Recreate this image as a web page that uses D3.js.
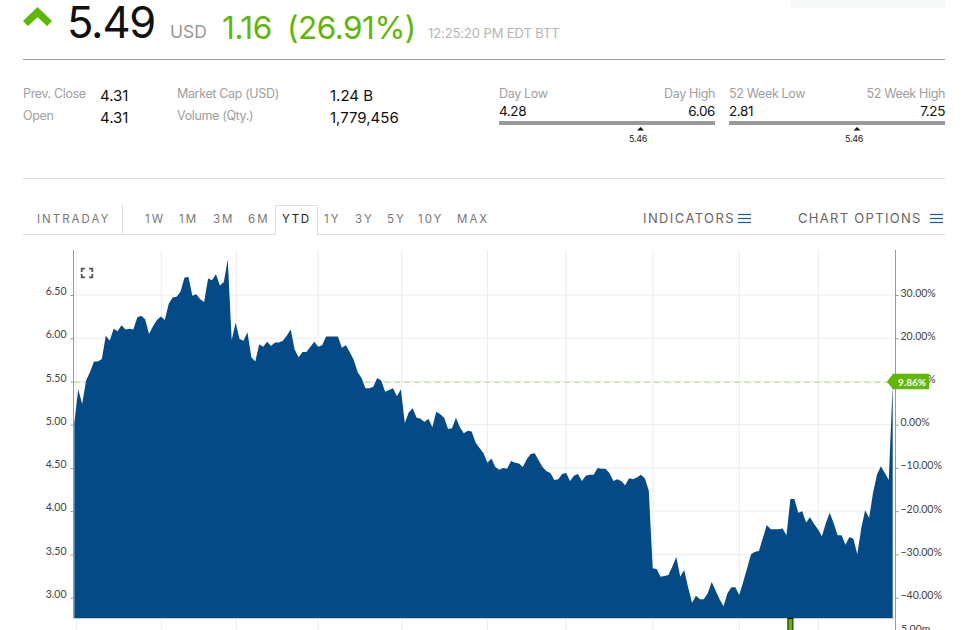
<!DOCTYPE html>
<html><head><meta charset="utf-8">
<script src="https://cdn.jsdelivr.net/npm/d3@7"></script>
<style>
html,body{margin:0;padding:0;background:#fff;overflow:hidden}
svg{display:block}
text{font-family:Inter,"Noto Sans",sans-serif}
.ax text{font-family:Lato,sans-serif;font-size:10.5px;fill:#444}
</style></head><body><div id="c"></div>
<script>
const prices=[5.02,5.41,5.24,5.51,5.61,5.73,5.73,5.76,6.03,5.97,6.11,6.08,6.15,6.10,6.11,6.10,6.24,6.26,6.22,6.05,6.14,6.21,6.25,6.21,6.40,6.47,6.48,6.54,6.70,6.71,6.49,6.51,6.45,6.42,6.69,6.67,6.74,6.61,6.65,6.91,5.98,6.18,5.99,5.97,6.07,
5.78,5.73,5.93,5.90,5.96,5.91,5.95,5.95,5.97,6.03,6.10,5.87,5.78,5.84,5.84,5.90,5.96,5.90,5.92,6.02,6.02,6.02,6.02,5.89,5.92,5.84,5.75,5.61,5.54,5.42,5.42,5.44,5.54,5.51,5.38,5.40,5.42,5.33,5.41,5.02,5.14,5.19,5.08,5.07,5.03,5.07,4.97,5.15,5.12,5.08,4.95,4.96,5.08,
4.97,4.90,4.93,4.92,4.79,4.73,4.67,4.56,4.61,4.51,4.48,4.50,4.49,4.58,4.56,4.55,4.51,4.60,4.66,4.67,4.59,4.51,4.46,4.44,4.36,4.37,4.43,4.44,4.35,4.41,4.43,4.35,4.41,4.42,4.42,4.50,4.49,4.49,4.44,4.35,4.37,4.35,4.30,4.38,4.37,4.39,4.42,4.38,4.24,
3.34,3.33,3.24,3.25,3.26,3.36,3.47,3.24,3.32,3.12,2.94,3.02,2.98,2.98,3.05,3.18,3.08,2.98,2.90,3.05,3.12,3.12,3.03,3.18,3.34,3.50,3.53,3.54,3.69,3.84,3.79,3.79,3.79,3.80,3.72,4.14,4.14,3.98,4.00,3.87,3.93,3.85,3.79,3.71,3.86,3.98,3.86,3.72,3.72,3.61,3.70,3.68,3.50,3.80,4.01,3.92,4.21,4.42,4.52,4.44,4.36,5.48];
const priceTicks=[3,3.5,4,4.5,5,5.5,6,6.5];
const pctTicks=[30,20,10,0,-10,-20,-30,-40];
const monthStarts=[0.5,22.1,41.2,62,83.2,105,125,147.1,169,189.1];
const volumeBarIndex=182;
const lastPrice=5.49;
const lastPctLabel="9.86%";
const tabs=[["1W",145],["1M",179],["3M",213],["6M",248],["YTD",282],["1Y",324],["3Y",355],["5Y",387],["10Y",418],["MAX",457]];
const stats=[["Prev. Close",23,98],["Open",23,120],["Market Cap (USD)",177,98],["Volume (Qty.)",177,120]];
const statValues=[["4.31",100,101],["4.31",100,123],["1.24 B",330,101],["1,779,456",330,123]];

const W=969,H=630,plot={l:73.5,r:895.5,t:250,b:618,bottom:630};
const svg=d3.select("#c").append("svg").attr("width",W).attr("height",H);
const x=d3.scaleLinear().domain([0,prices.length-1]).range([74.3,892.7]);
const y=d3.scaleLinear().domain([3,6.5]).range([597.6,295]);
const yPct=d3.scaleLinear().domain([0,30]).range([y(5),y(6.5)]);
const T=(s,px,py,size,fill,o={})=>svg.append("text").text(s).attr("x",px).attr("y",py).attr("font-size",size).attr("fill",fill)
  .attr("text-anchor",o.a||"start").attr("font-weight",o.w||400).style("letter-spacing",o.ls||null).style("font-family",o.f||null);
const L=(x1,y1,x2,y2,c,w=1)=>svg.append("line").attr("x1",x1).attr("y1",y1).attr("x2",x2).attr("y2",y2).attr("stroke",c).attr("stroke-width",w);

// header
svg.append("rect").attr("x",791).attr("y",0).attr("width",154).attr("height",8).attr("fill","#f7f8f8");
svg.append("path").attr("d","M23 21L37.5 7L52 21L47 26L37.5 17L28 26Z").attr("fill","#5cb800");
T("5.49",67,38,43.5,"#111",{ls:"-1.2px"});
T("USD",170,38,17.5,"#999");
T("1.16",222,39,31.5,"#5cb800",{ls:"-0.4px"});
T("(26.91%)",287,39,31.5,"#5cb800",{ls:"-0.5px"});
T("12:25:20 PM EDT BTT",428,38,13,"#b5b5b5",{ls:"-0.1px"});
L(23,59.5,945,59.5,"#999");
stats.forEach(d=>T(d[0],d[1],d[2],12.5,"#a0a0a0",{ls:"-0.35px"}));
statValues.forEach(d=>T(d[0],d[1],d[2],15,"#111"));
[[499,715,"Day Low","Day High","4.28","6.06",640.5,638],[729,945,"52 Week Low","52 Week High","2.81","7.25",857,854]].forEach(r=>{
  T(r[2],r[0],98,12.5,"#a0a0a0",{ls:"-0.35px"});
  T(r[3],r[1],98,12.5,"#a0a0a0",{a:"end",ls:"-0.35px"});
  T(r[4],r[0],116,13.5,"#111",{ls:"-0.4px"});
  T(r[5],r[1],116,13.5,"#111",{a:"end",ls:"-0.4px"});
  svg.append("rect").attr("x",r[0]).attr("y",121).attr("width",r[1]-r[0]).attr("height",4).attr("fill","#999");
  svg.append("path").attr("d",`M${r[6]-3.5} 130.5L${r[6]} 127L${r[6]+3.5} 130.5Z`).attr("fill","#111");
  T("5.46",r[7],142,9,"#222",{a:"middle",ls:"-0.3px"});
});
L(23,178.5,945,178.5,"#ddd");

// tabs
L(23,234.5,945,234.5,"#ddd");
L(122.5,205,122.5,234,"#ddd");
svg.append("path").attr("d","M275.5 235V205.5H317.5V235").attr("fill","#fff").attr("stroke","#ddd");
T("INTRADAY",37,223,11.5,"#777",{ls:"2px"});
tabs.forEach(d=>T(d[0],d[1],223,11.5,d[0]=="YTD"?"#222":"#777",{ls:d[0]=="YTD"?"1.6px":"2px"}));
T("INDICATORS",643,223,13,"#666",{ls:"1.4px"});
T("CHART OPTIONS",798,223,13,"#666",{ls:"1.3px"});
[[738,751],[930,943]].forEach(b=>[214.5,218.5,222.5].forEach(v=>L(b[0],v,b[1],v,"#1a5a96",1.2)));

// grid
const grid=svg.append("g").attr("stroke","#ececec").attr("stroke-width",1);
grid.selectAll(".h").data(priceTicks).join("line").attr("x1",plot.l).attr("x2",plot.r).attr("y1",d=>y(d)).attr("y2",d=>y(d));
grid.selectAll(".v").data(monthStarts).join("line").attr("x1",d=>x(d)).attr("x2",d=>x(d)).attr("y1",plot.t).attr("y2",plot.bottom);

// last price dashed line
svg.append("line").attr("x1",x(0)).attr("x2",x(prices.length-1)).attr("y1",y(lastPrice)).attr("y2",y(lastPrice))
  .attr("stroke","#b5e07c").attr("stroke-width",1).attr("stroke-dasharray","6 4");

// area
const area=d3.area().x((d,i)=>x(i)).y0(plot.b).y1(d=>y(d));
svg.append("path").datum(prices).attr("d",area).attr("fill","#034a87");

// axes
const axL=svg.append("g").attr("class","ax").attr("transform",`translate(${plot.l},0)`)
  .call(d3.axisLeft(y).tickValues(priceTicks).tickFormat(d3.format(".2f")).tickSize(3).tickPadding(4));
const axR=svg.append("g").attr("class","ax").attr("transform",`translate(${plot.r},0)`)
  .call(d3.axisRight(yPct).tickValues(pctTicks).tickFormat(d=>d3.format(".2f")(d)+"%").tickSize(3).tickPadding(2));
[axL,axR].forEach(a=>{a.select(".domain").remove();a.selectAll("line").attr("stroke","#999");});
axL.selectAll("text").attr("dy","-0.03em");
axR.selectAll("text").attr("dy","0.1em");
L(plot.l,plot.t,plot.l,plot.b,"#999");
L(plot.r,plot.t,plot.r,plot.bottom,"#999");
L(plot.l,plot.b+.5,plot.r,plot.b+.5,"#ccc");

// volume panel
svg.append("rect").attr("x",x(volumeBarIndex)-2.5).attr("y",plot.b+.5).attr("width",5).attr("height",plot.bottom-plot.b).attr("fill","#6ab400").attr("stroke","#111");
T("5.00m",901,633,10.5,"#444",{f:"Lato,sans-serif"});

// expand icon
svg.append("path").attr("fill","none").attr("stroke","#555").attr("stroke-width",1.8)
 .attr("d","M81.7 272V268.7H85M89 268.7H92.3V272M92.3 274V277.3H89M85 277.3H81.7V274");

// current flag
const fy=y(lastPrice);
svg.append("path").attr("d",`M887 ${fy-.5}L893 ${fy-8.5}H929V${fy+7}H893Z`).attr("fill","#62b800");
T(lastPctLabel,898,fy+3.4,10,"#fff",{f:"Lato,sans-serif",w:700});
</script></body></html>
